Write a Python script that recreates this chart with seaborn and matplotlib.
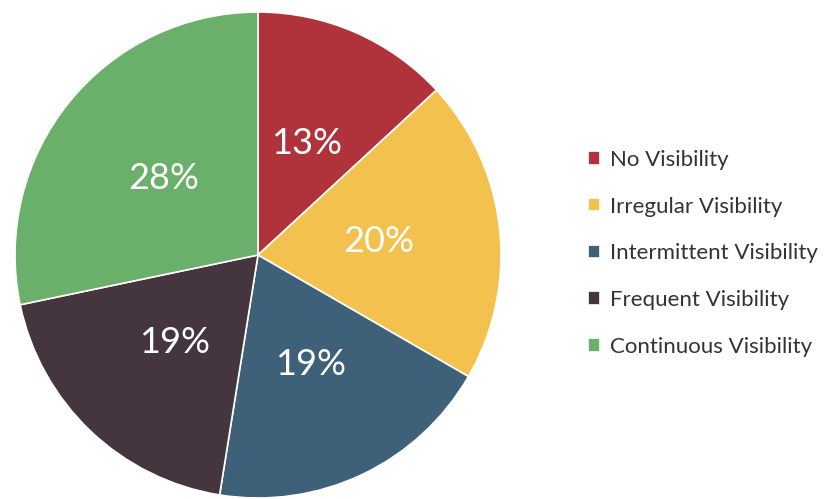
import matplotlib
matplotlib.use("Agg")
import matplotlib.pyplot as plt
import seaborn as sns

sns.set_theme(style="white")
plt.rcParams["font.family"] = ["Lato", "DejaVu Sans"]

categories = ["No Visibility", "Irregular Visibility", "Intermittent Visibility",
              "Frequent Visibility", "Continuous Visibility"]
shares = [13, 20, 19, 19, 28]
colors = ["#B0333C", "#F2C14E", "#3E6079", "#45353F", "#6AAF6A"]

fig = plt.figure(figsize=(8.3, 4.99), dpi=100)
ax = fig.add_axes([15 / 830, 1 / 499, 486 / 830, 486 / 499])

wedges, texts, autotexts = ax.pie(
    shares,
    colors=colors,
    startangle=90,
    counterclock=False,
    autopct=lambda p: f"{p:.0f}%",
    pctdistance=0.5,
    wedgeprops=dict(edgecolor="white", linewidth=1.2),
    textprops=dict(color="white", fontsize=26),
)
ax.set_xlim(-1.0, 1.0)
ax.set_ylim(-1.0, 1.0)
ax.set_aspect("equal")

fig.legend(
    wedges, categories,
    loc="upper left",
    bbox_to_anchor=(568 / 830, 1 - 130 / 499),
    frameon=False,
    fontsize=16,
    handlelength=0.55,
    handleheight=0.55,
    handletextpad=0.45,
    labelspacing=1.2,
    labelcolor="#333333",
)

fig.savefig("out.png", dpi=100)
